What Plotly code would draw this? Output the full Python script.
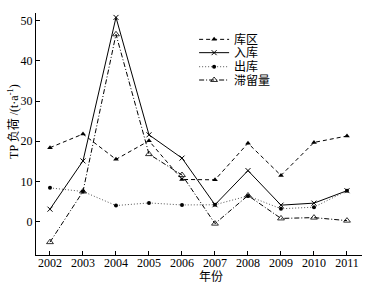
import plotly.graph_objects as go

years = [2002, 2003, 2004, 2005, 2006, 2007, 2008, 2009, 2010, 2011]
kuqu = [18.4, 21.8, 15.5, 20.1, 10.5, 10.4, 19.5, 11.5, 19.7, 21.3]
ruku = [3.1, 15.1, 50.8, 21.6, 15.8, 4.2, 12.7, 4.1, 4.6, 7.7]
chuku = [8.4, 7.5, 4.0, 4.65, 4.15, 4.2, 6.4, 3.2, 3.6, 7.7]
zhiliu = [-5.1, 7.5, 46.6, 16.8, 11.6, -0.5, 6.5, 0.8, 1.0, 0.25]
names = ["库区", "入库", "出库", "滞留量"]
y_ticks = [0, 10, 20, 30, 40, 50]

FONT = "Liberation Serif, Times New Roman, Noto Sans CJK SC, serif"

fig = go.Figure()
fig.add_trace(go.Scatter(x=years, y=kuqu, name=names[0], mode="lines+markers",
                         legend="legend",
                         line=dict(color="black", width=1, dash="4px,3px"),
                         marker=dict(symbol="triangle-up", size=5, color="black")))
fig.add_trace(go.Scatter(x=years, y=ruku, name=names[1], mode="lines+markers",
                         legend="legend2",
                         line=dict(color="black", width=1),
                         marker=dict(symbol="x-thin", size=5, line=dict(color="black", width=1))))
fig.add_trace(go.Scatter(x=years, y=chuku, name=names[2], mode="lines+markers",
                         legend="legend3",
                         line=dict(color="#555555", width=1, dash="1px,2px"),
                         marker=dict(symbol="circle", size=4, color="black")))
fig.add_trace(go.Scatter(x=years, y=zhiliu, name=names[3], mode="lines+markers",
                         legend="legend4",
                         line=dict(color="black", width=1, dash="5px,2px,1px,2px"),
                         marker=dict(symbol="triangle-up-open", size=6, color="black",
                                     line=dict(width=0.8))))


def leg(y):
    return dict(x=0.485, y=y, xanchor="left", yanchor="top",
                bgcolor="rgba(0,0,0,0)", font=dict(size=12), itemwidth=30)


fig.update_layout(
    width=367, height=283,
    margin=dict(l=36, r=5, t=13, b=28, autoexpand=False),
    paper_bgcolor="white", plot_bgcolor="white",
    font=dict(family=FONT, size=12, color="black"),
    showlegend=True,
    legend=leg(0.951), legend2=leg(0.896), legend3=leg(0.838), legend4=leg(0.783),
    xaxis=dict(range=[2001.576, 2011.455], tickmode="array", tickvals=years,
               ticktext=[str(y) for y in years], automargin=False,
               showgrid=False, zeroline=False, showline=True, linecolor="black",
               linewidth=1, ticks="inside", ticklen=4, tickcolor="black",
               mirror=False, tickfont=dict(size=12), ticklabelstandoff=-3),
    yaxis=dict(range=[-8.3, 51.9], tickmode="array", tickvals=y_ticks,
               automargin=False,
               showgrid=False, zeroline=False, showline=True, linecolor="black",
               linewidth=1, ticks="inside", ticklen=4, tickcolor="black",
               mirror=False, tickfont=dict(size=12)),
    annotations=[
        dict(text="年份", xref="paper", yref="paper", x=0.537, y=0,
             yshift=-13, xanchor="center", yanchor="top",
             showarrow=False, font=dict(size=12)),
        dict(text="TP 负荷 /(t·a<sup>-1</sup>)", xref="paper", yref="paper",
             x=0, y=0.55, xshift=-22, xanchor="center", yanchor="middle",
             textangle=-90, showarrow=False, font=dict(size=12)),
    ],
)

fig.write_html("out.html", config={"displayModeBar": False},
               post_script="document.body.style.margin='0';document.body.style.padding='0';")
